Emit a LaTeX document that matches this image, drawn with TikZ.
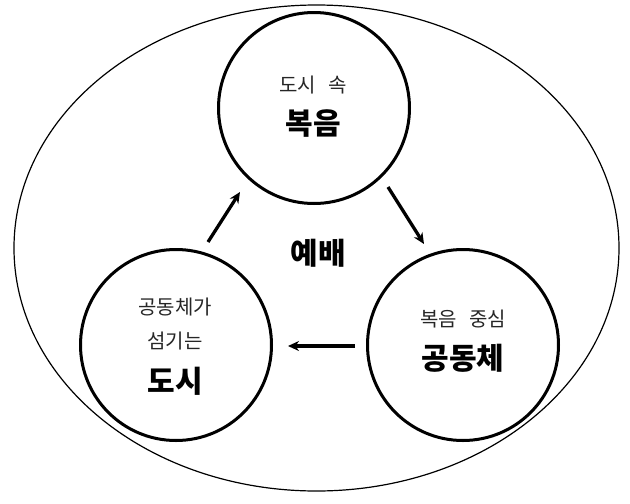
\documentclass[tikz,border=0pt]{standalone}
\usepackage{fontspec}
\setmainfont{Noto Sans CJK KR}
\usetikzlibrary{arrows.meta}
\newcommand{\gapsp}{\hspace{0.6em}}
\tikzset{
  outerring/.style={draw=black, line width=1.2pt},
  bubble/.style={circle, draw=black, line width=3pt, minimum size=191pt, inner sep=0pt},
  smalltxt/.style={anchor=base, inner sep=0pt, text=black!85, font=\fontsize{20}{20}\selectfont},
  bigtxt/.style={anchor=base, inner sep=0pt, text=black, font=\fontsize{30}{30}\selectfont\bfseries},
  flow/.style={line width=3.3pt, -{Stealth[length=11pt, width=10pt]}}
}
\begin{document}
\begin{tikzpicture}[x=1pt, y=-1pt]
\useasboundingbox (0,0) rectangle (630,504);
\draw[outerring] (316.5,248) ellipse [x radius=302.5, y radius=243];
\node[bubble] (top) at (314,108) {};
\node[bubble] (left) at (176,345) {};
\node[bubble] (right) at (463,345) {};
\node[smalltxt] (t1) at (313,92.5) {도시\gapsp 속};
\node[bigtxt] (t2) at (313,134.5) {복음};
\node[smalltxt] (l1) at (175,314.5) {공동체가};
\node[smalltxt] (l2) at (175,348.5) {섬기는};
\node[bigtxt] (l3) at (175,392.5) {도시};
\node[smalltxt] (r1) at (463,326.5) {복음\gapsp 중심};
\node[bigtxt] (r2) at (463,369.5) {공동체};
\node[bigtxt] (mid) at (318,264.5) {예배};
\coordinate (a1s) at (208,242);
\coordinate (a1e) at (240,192);
\coordinate (a2s) at (388,187);
\coordinate (a2e) at (424,244);
\coordinate (a3s) at (355,346);
\coordinate (a3e) at (288,346);
\draw[flow] (a1s) -- (a1e);
\draw[flow] (a2s) -- (a2e);
\draw[flow] (a3s) -- (a3e);
\end{tikzpicture}
\end{document}
